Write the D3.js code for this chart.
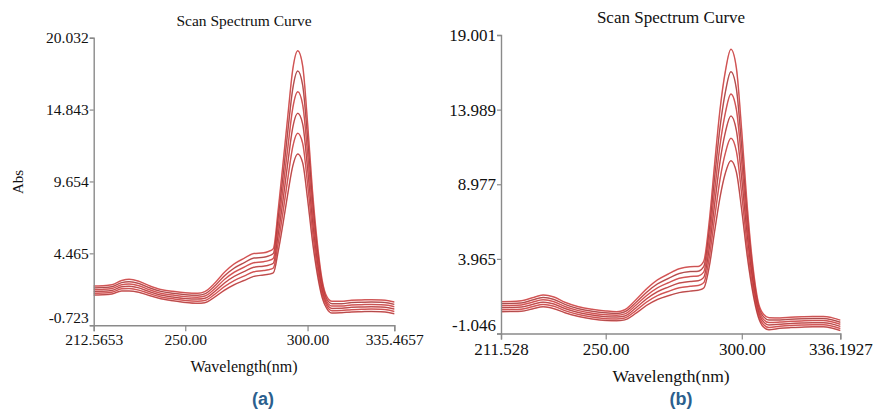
<!DOCTYPE html>
<html><head><meta charset="utf-8">
<script src="https://cdn.jsdelivr.net/npm/d3@7/dist/d3.min.js"></script>
<style>
body{margin:0;background:#fff;}
</style></head>
<body><svg id="chart" width="876" height="410"></svg>
<script>
// ---------- Panel (a) data ----------
const wavelengthA = [212.5653,216,220,224,227,231,235,240,245,250,255,258,262,266,270,274,278,282,284,286,288,290,292,294,296,298,300,302,304,306,308,310,314,318,322,326,330,333,335.4657];
const absA1 = [2.10,2.12,2.20,2.50,2.59,2.45,2.15,1.85,1.72,1.62,1.58,1.70,2.30,3.10,3.70,4.10,4.45,4.50,4.60,4.80,7.60,11.0,14.5,17.8,19.09,18.0,13.9,9.0,5.2,2.5,1.30,1.00,1.00,1.08,1.10,1.12,1.10,1.05,0.95];
const absA2 = [1.97,1.99,2.06,2.35,2.42,2.29,2.00,1.72,1.58,1.48,1.44,1.54,2.10,2.84,3.40,3.78,4.12,4.18,4.27,4.45,7.00,10.1,13.4,16.4,17.63,16.6,12.8,8.30,4.75,2.25,1.12,0.83,0.83,0.91,0.93,0.95,0.93,0.88,0.78];
const absA3 = [1.84,1.86,1.92,2.20,2.25,2.13,1.86,1.58,1.45,1.34,1.30,1.38,1.90,2.58,3.10,3.46,3.79,3.86,3.94,4.10,6.40,9.25,12.2,15.0,16.13,15.2,11.7,7.55,4.30,2.00,0.95,0.66,0.66,0.74,0.76,0.78,0.76,0.71,0.61];
const absA4 = [1.71,1.73,1.79,2.05,2.09,1.97,1.72,1.45,1.31,1.20,1.16,1.22,1.70,2.32,2.80,3.14,3.46,3.54,3.61,3.75,5.80,8.35,11.1,13.6,14.57,13.8,10.6,6.80,3.85,1.75,0.78,0.49,0.50,0.57,0.59,0.61,0.59,0.54,0.44];
const absA5 = [1.58,1.60,1.66,1.90,1.92,1.81,1.58,1.32,1.18,1.06,1.01,1.06,1.50,2.06,2.50,2.82,3.13,3.22,3.28,3.40,5.20,7.50,9.95,12.2,13.13,12.4,9.50,6.10,3.40,1.50,0.61,0.32,0.34,0.40,0.42,0.44,0.42,0.37,0.27];
const absA6 = [1.45,1.47,1.53,1.75,1.75,1.65,1.44,1.19,1.04,0.92,0.86,0.90,1.30,1.80,2.20,2.50,2.80,2.90,2.95,3.05,4.60,6.65,8.85,10.8,11.64,11.0,8.40,5.35,2.95,1.25,0.44,0.15,0.18,0.23,0.25,0.27,0.25,0.20,0.10];
const yTicksA = [-0.723,4.465,9.654,14.843,20.032];
const yLabelsA = ["-0.723","4.465","9.654","14.843","20.032"];
const xTicksA = [212.5653,250,300,335.4657];
const xLabelsA = ["212.5653","250.00","300.00","335.4657"];

// ---------- Panel (b) data ----------
const wavelengthB = [211.528,215,219,223,227,231,235,240,245,250,254,257,261,265,269,273,277,281,284,286,288,290,292,294,296,298,300,302,304,306,308,310,314,318,322,326,330,333,336.1927];
const absB1 = [1.09,1.10,1.15,1.35,1.54,1.40,1.05,0.75,0.58,0.47,0.42,0.55,1.20,1.95,2.55,2.95,3.30,3.44,3.46,3.80,6.40,10.3,14.0,16.6,18.04,16.8,12.5,7.5,3.6,1.1,0.25,0.02,0.00,0.05,0.08,0.10,0.10,0.02,-0.15];
const absB2 = [0.96,0.97,1.01,1.20,1.38,1.24,0.91,0.62,0.45,0.34,0.30,0.41,1.02,1.72,2.28,2.65,2.98,3.11,3.14,3.44,5.80,9.40,12.8,15.2,16.54,15.4,11.4,6.80,3.20,0.90,0.08,-0.14,-0.14,-0.09,-0.06,-0.04,-0.04,-0.12,-0.29];
const absB3 = [0.82,0.83,0.87,1.05,1.22,1.09,0.77,0.49,0.32,0.21,0.18,0.27,0.84,1.50,2.02,2.36,2.66,2.78,2.82,3.08,5.20,8.50,11.6,13.8,15.04,14.0,10.4,6.15,2.85,0.70,-0.10,-0.31,-0.28,-0.23,-0.20,-0.18,-0.18,-0.26,-0.43];
const absB4 = [0.69,0.70,0.73,0.90,1.06,0.93,0.63,0.36,0.19,0.08,0.06,0.13,0.66,1.28,1.76,2.07,2.34,2.45,2.50,2.72,4.60,7.60,10.5,12.5,13.56,12.6,9.30,5.50,2.50,0.50,-0.27,-0.47,-0.42,-0.37,-0.34,-0.32,-0.32,-0.40,-0.57];
const absB5 = [0.55,0.56,0.59,0.75,0.91,0.78,0.49,0.23,0.06,-0.05,-0.07,0.00,0.48,1.06,1.50,1.78,2.02,2.12,2.18,2.36,4.00,6.70,9.30,11.1,12.06,11.2,8.25,4.80,2.10,0.30,-0.45,-0.64,-0.56,-0.51,-0.48,-0.46,-0.46,-0.54,-0.71];
const absB6 = [0.42,0.43,0.45,0.60,0.75,0.62,0.35,0.10,-0.07,-0.17,-0.19,-0.13,0.30,0.84,1.24,1.49,1.70,1.80,1.86,2.00,3.40,5.80,8.10,9.75,10.56,9.80,7.20,4.15,1.75,0.10,-0.62,-0.80,-0.70,-0.65,-0.62,-0.60,-0.60,-0.68,-0.85];
const yTicksB = [-1.046,3.965,8.977,13.989,19.001];
const yLabelsB = ["-1.046","3.965","8.977","13.989","19.001"];
const xTicksB = [211.528,250,300,336.1927];
const xLabelsB = ["211.528","250.00","300.00","336.1927"];

const seriesA = [absA1,absA2,absA3,absA4,absA5,absA6];
const seriesB = [absB1,absB2,absB3,absB4,absB5,absB6];
const coreColors = ["#7a2020","#111111","#7a2020","#3a0a0a","#7a2020","#3a0a0a"];

const SERIF = "'Liberation Serif','Tinos','Times New Roman','Nimbus Roman','DejaVu Serif',serif";
const svg = d3.select("#chart");

function panel(cfg){
  const g = svg.append("g");
  const x = d3.scaleLinear().domain([cfg.xTicks[0], cfg.xTicks[cfg.xTicks.length-1]]).range([cfg.left, cfg.right]);
  const y = d3.scaleLinear().domain([cfg.yTicks[0], cfg.yTicks[cfg.yTicks.length-1]]).range([cfg.bottom, cfg.top]);
  const fs = cfg.fs;

  const line = d3.line().x((d,i)=>x(cfg.wl[i])).y(d=>y(d)).curve(d3.curveMonotoneX);
  cfg.series.forEach((s,k)=>{
    g.append("path").attr("d", line(s)).attr("fill","none").attr("stroke","#ea4a4a").attr("stroke-width",1.5).attr("stroke-opacity",0.8);
    g.append("path").attr("d", line(s)).attr("fill","none").attr("stroke",coreColors[k]).attr("stroke-width",0.5).attr("stroke-opacity",0.7);
  });

  const ya = d3.axisLeft(y).tickValues(cfg.yTicks).tickFormat((d,i)=>cfg.yLabels[i]).tickSize(4).tickPadding(1);
  const yg = g.append("g").attr("transform",`translate(${cfg.left},0)`).call(ya);
  yg.select(".domain").attr("stroke","#8a8a8a").attr("stroke-width",1.4);
  yg.selectAll(".tick line").attr("stroke","#8a8a8a").attr("stroke-width",1.2);
  yg.selectAll(".tick text").attr("font-family",SERIF).attr("font-size",fs).attr("fill","#111")
    .attr("dy",(d,i)=> i===0 ? "-0.15em" : "0.32em");

  const xa = d3.axisBottom(x).tickValues(cfg.xTicks).tickFormat((d,i)=>cfg.xLabels[i]).tickSize(6).tickPadding(3);
  const xg = g.append("g").attr("transform",`translate(0,${cfg.bottom})`).call(xa);
  xg.select(".domain").attr("stroke","#8a8a8a").attr("stroke-width",1.4);
  xg.selectAll(".tick line").attr("stroke","#8a8a8a").attr("stroke-width",1.2);
  xg.selectAll(".tick text").attr("font-family",SERIF).attr("font-size",fs).attr("fill","#111");

  g.append("text").attr("x",cfg.titleX).attr("y",cfg.titleY).attr("text-anchor","middle").attr("font-family",SERIF).attr("font-size",fs).attr("fill","#111").text("Scan Spectrum Curve");
  g.append("text").attr("x",cfg.titleX).attr("y",cfg.xlabY).attr("text-anchor","middle").attr("font-family",SERIF).attr("font-size",fs+0.5).attr("fill","#111").text("Wavelength(nm)");
  if(cfg.ylab){
    g.append("text").attr("transform",`translate(23,${cfg.ylabY}) rotate(-90)`).attr("text-anchor","middle").attr("font-family",SERIF).attr("font-size",15).attr("fill","#111").text("Abs");
  }
  g.append("text").attr("x",cfg.tagX).attr("y",cfg.tagY).attr("text-anchor","middle")
    .attr("font-family","'Liberation Sans',Arial,sans-serif").attr("font-weight","bold").attr("font-size",18).attr("fill","#2b5f8e").text(cfg.tag);
}

panel({wl:wavelengthA, series:seriesA, xTicks:xTicksA, xLabels:xLabelsA, yTicks:yTicksA, yLabels:yLabelsA,
  left:93.7, right:394.3, top:37.7, bottom:325.2, fs:15.5,
  titleX:244, titleY:26, xlabY:372, ylab:true, ylabY:182, tag:"(a)", tagX:263, tagY:405});
panel({wl:wavelengthB, series:seriesB, xTicks:xTicksB, xLabels:xLabelsB, yTicks:yTicksB, yLabels:yLabelsB,
  left:501, right:840.3, top:35, bottom:333.5, fs:17,
  titleX:671, titleY:23, xlabY:382, ylab:false, tag:"(b)", tagX:681, tagY:405});
</script></body></html>
